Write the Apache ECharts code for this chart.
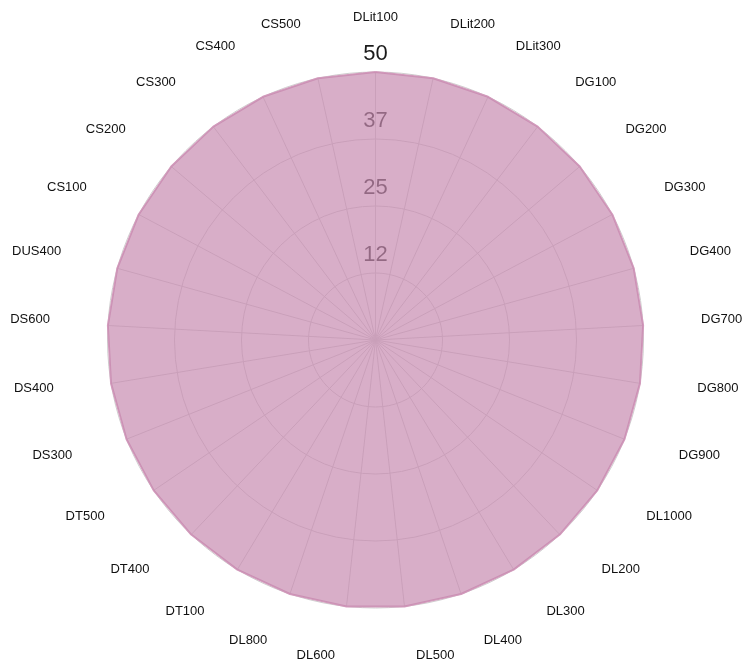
<!DOCTYPE html>
<html>
<head>
<meta charset="utf-8">
<script src="https://cdn.jsdelivr.net/npm/echarts@6/dist/echarts.min.js"></script>
<style>
  html, body { margin: 0; padding: 0; background: #fff; }
  #chart { width: 743px; height: 660px; }
</style>
</head>
<body>
<div id="chart"></div>
<script>
// categories in clockwise order, starting at the top
const categories = [
  'DLit100', 'DLit200', 'DLit300', 'DG100', 'DG200', 'DG300', 'DG400', 'DG700',
  'DG800', 'DG900', 'DL1000', 'DL200', 'DL300', 'DL400', 'DL500', 'DL600', 'DL800',
  'DT100', 'DT400', 'DT500', 'DS300', 'DS400', 'DS600', 'DUS400', 'CS100', 'CS200',
  'CS300', 'CS400', 'CS500',
]
const values = [
  50, 50, 50, 50, 50, 50, 50, 50, 50, 50, 50, 50, 50, 50, 50,
  50, 50, 50, 50, 50, 50, 50, 50, 50, 50, 50, 50, 50, 50,
]
const axisMax = 50
const tickCount = 4

const fontFamily = '"Liberation Sans", Arial, sans-serif'

// echarts lays radar indicators out counter-clockwise, so flip everything after the first one
function toCounterClockwise(arr) {
  return [arr[0]].concat(arr.slice(1).reverse())
}

const ccwNames = toCounterClockwise(categories)

const gridIndicator = ccwNames.map((name, i) => {
  const item = { name: name, min: 0, max: axisMax }
  if (i === 0) {
    item.axisLabel = {
      show: true,
      margin: 0,
      align: 'center',
      verticalAlign: 'bottom',
      padding: [0, 0, 7, 0],
      fontSize: 22,
      color: '#1a1a1a',
      fontFamily: fontFamily,
      showMinLabel: false,
      formatter: (v) => String(Math.floor(v)),
    }
  }
  return item
})

// names sit on their own (invisible) radar, slightly higher than the grid
const nameIndicator = ccwNames.map((name) => ({ name: name, min: 0, max: axisMax }))

const hidden = {
  axisLine: { show: false },
  splitLine: { show: false },
  splitArea: { show: false },
  axisTick: { show: false },
  axisLabel: { show: false },
}

const chart = echarts.init(document.getElementById('chart'))
chart.setOption({
  animation: false,
  radar: [
    {
      center: [375.5, 340],
      radius: 268,
      startAngle: 90,
      shape: 'circle',
      splitNumber: tickCount,
      axisName: { show: false },
      axisLine: { lineStyle: { color: '#cfcfcf', width: 1 } },
      splitLine: { lineStyle: { color: '#cfcfcf', width: 1 } },
      splitArea: { show: false },
      axisTick: { show: false },
      axisLabel: { show: false },
      indicator: gridIndicator,
    },
    Object.assign({
      center: [375.5, 337],
      radius: 100,
      startAngle: 90,
      shape: 'circle',
      splitNumber: tickCount,
      nameGap: 220,
      silent: true,
      axisName: {
        color: '#111',
        fontSize: 13,
        fontFamily: fontFamily,
        verticalAlign: 'middle',
        padding: [0, 6],
      },
      indicator: nameIndicator,
    }, hidden),
  ],
  series: [
    {
      type: 'radar',
      radarIndex: 0,
      symbol: 'none',
      lineStyle: { color: '#d39cbd', width: 2 },
      areaStyle: { color: 'rgba(199, 139, 176, 0.7)', opacity: 1 },
      data: [{ value: toCounterClockwise(values) }],
    },
  ],
})
</script>
</body>
</html>
